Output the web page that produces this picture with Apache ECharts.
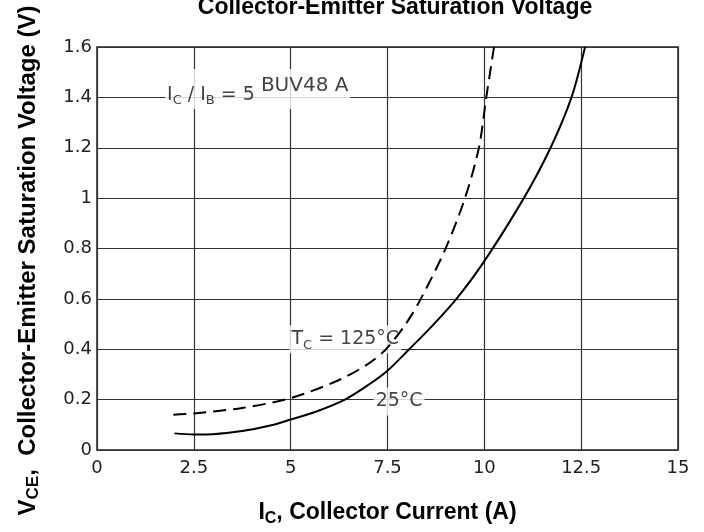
<!DOCTYPE html>
<html><head><meta charset="utf-8">
<script src="https://cdn.jsdelivr.net/npm/echarts@6/dist/echarts.min.js"></script>
<style>html,body{margin:0;padding:0;background:#fff}#c{width:704px;height:532px}</style>
</head><body><div id="c"></div>
<script>
// ---- data ----
const titleText = 'Collector-Emitter Saturation Voltage';
const xMin = 0, xMax = 15, xStep = 2.5;
const yMin = 0, yMax = 1.6, yStep = 0.2;

// Tc = 25 °C (solid)
const ic25 = [2.0, 2.5, 3.0, 3.75, 4.5, 5.0, 5.7, 6.4, 7.0, 7.5, 8.06, 8.68, 9.28, 10.0, 11.02, 11.71, 12.25, 12.6];
const vce25 = [0.066, 0.062, 0.063, 0.075, 0.098, 0.121, 0.155, 0.2, 0.258, 0.315, 0.4, 0.497, 0.6, 0.75, 1.0, 1.2, 1.4, 1.6];

// Tc = 125 °C (dashed)
const ic125 = [1.97, 2.5, 3.75, 5.0, 6.25, 7.0, 7.46, 7.97, 8.36, 9.0, 9.5, 9.86, 10.05, 10.25];
const vce125 = [0.14, 0.145, 0.167, 0.206, 0.278, 0.342, 0.4, 0.5, 0.6, 0.8, 1.0, 1.2, 1.4, 1.6];

// annotations (anchor in data units)
const noteText = ['{m|I}{s|C}{m| / I}{s|B}{m| = 5 }{u|BUV48 A}', '{m|T}{s|C}{m| = 125°C}', '{m|25°C}'];
const noteX = [4.15, 6.41, 7.8];
const noteY = [1.433, 0.44, 0.193];

// ---- chart ----
const zip = (a, b) => a.map((v, i) => [v, b[i]]);
const bold = '"Liberation Sans", Arial, sans-serif';
const reg = '"DejaVu Sans", sans-serif';
const richLabel = {
  m: { fontFamily: reg, fontSize: 19, color: '#111', lineHeight: 28 },
  s: { fontFamily: reg, fontSize: 13, color: '#111', height: 16, verticalAlign: 'bottom' },
  u: { fontFamily: reg, fontSize: 20, color: '#111', height: 10, verticalAlign: 'top' }
};
const notePad = [[12, 2, 0, 2], [0, 2, 0, 2], [0, 2, 0, 2]];
const chart = echarts.init(document.getElementById('c'), null, { renderer: 'canvas' });
chart.setOption({
  animation: false,
  backgroundColor: '#fff',
  title: {
    text: titleText, left: 390, top: -9, textAlign: 'center',
    textStyle: { fontFamily: bold, fontSize: 23, fontWeight: 'bold', color: '#000' }
  },
  grid: { left: 97, right: 26, top: 47, bottom: 78, show: true, borderColor: '#222', borderWidth: 1.5, backgroundColor: 'transparent' },
  xAxis: {
    type: 'value', min: xMin, max: xMax, interval: xStep,
    name: '{b|I}{s|C}{b|, Collector Current (A)}', nameLocation: 'middle', nameGap: 49,
    nameTextStyle: { rich: {
      b: { fontFamily: bold, fontSize: 23, fontWeight: 'bold', color: '#000', lineHeight: 28 },
      s: { fontFamily: bold, fontSize: 16, fontWeight: 'bold', color: '#000', lineHeight: 16, verticalAlign: 'bottom' }
    } },
    axisLine: { show: false }, axisTick: { show: false },
    axisLabel: { fontFamily: reg, fontSize: 18, color: '#222', margin: 9 },
    splitLine: { show: true, lineStyle: { color: '#333', width: 1.2 } }
  },
  yAxis: {
    type: 'value', min: yMin, max: yMax, interval: yStep,
    name: '{b|V}{s|CE}{b|,  Collector-Emitter Saturation Voltage (V)}', nameLocation: 'middle', nameGap: 55,
    nameTextStyle: { padding: [0, 24, 0, 0], rich: {
      b: { fontFamily: bold, fontSize: 24, fontWeight: 'bold', color: '#000', lineHeight: 28 },
      s: { fontFamily: bold, fontSize: 17, fontWeight: 'bold', color: '#000', lineHeight: 16, verticalAlign: 'bottom' }
    } },
    axisLine: { show: false }, axisTick: { show: false },
    axisLabel: { fontFamily: reg, fontSize: 18, color: '#222', margin: 5 },
    splitLine: { show: true, lineStyle: { color: '#333', width: 1.2 } }
  },
  series: [
    { type: 'line', name: '125', data: zip(ic125, vce125), smooth: 0.3, showSymbol: false, symbol: 'none',
      lineStyle: { color: '#000', width: 2, type: [13, 7] }, z: 4 },
    { type: 'line', name: '25', data: zip(ic25, vce25), smooth: 0.3, showSymbol: false, symbol: 'none',
      lineStyle: { color: '#000', width: 2 }, z: 4 },
    { type: 'scatter', symbolSize: 0, z: 2, silent: true,
      data: noteText.map((t, i) => ({ value: [noteX[i], noteY[i]], label: {
        show: true, position: 'inside', formatter: t, backgroundColor: '#fff',
        padding: notePad[i], rich: richLabel
      } })) }
  ]
});
</script>
</body></html>
